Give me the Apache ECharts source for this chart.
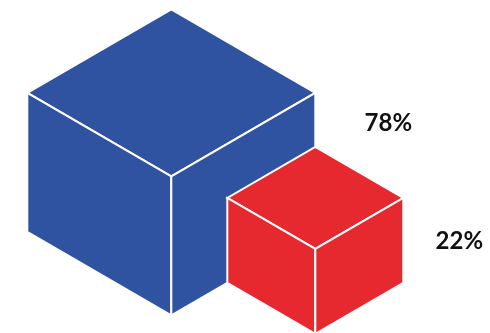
<!DOCTYPE html>
<html>
<head>
<meta charset="utf-8">
<script src="https://cdn.jsdelivr.net/npm/echarts@6/dist/echarts.min.js"></script>
<style>html,body{margin:0;padding:0;background:#fff}#c{width:490px;height:333px}</style>
</head>
<body>
<div id="c"></div>
<script>
const categories = ['78%', '22%'];
const values = [78, 22];
const labels = ['78%', '22%'];

const colors = ['#2F53A0', '#E5292F'];
const labelOffsets = [[73, 30], [56, 43]];
const DH = 0.58, VH = 0.965;
const LEFT = 27.3, TOPY = 9.3;

const chart = echarts.init(document.getElementById('c'), null, {renderer: 'canvas'});

function cubeGeom(api) {
  const hwOf = v => api.coord([0, -66])[1] - api.coord([0, v])[1];
  const hw1 = hwOf(values[0]), dh1 = hw1 * DH, vh1 = hw1 * VH;
  const c1 = [LEFT + hw1, TOPY + 2 * dh1];
  const hw2 = hwOf(values[1]), dh2 = hw2 * DH, vh2 = hw2 * VH;
  const ylb = c1[1] + vh1 - (hw1 - hw2) * dh1 / hw1;
  const c2 = [c1[0] + hw1, ylb + dh2 - vh2];
  return [{c: c1, hw: hw1, dh: dh1, vh: vh1}, {c: c2, hw: hw2, dh: dh2, vh: vh2}];
}

function renderItem(params, api) {
  const i = params.dataIndex;
  const g = cubeGeom(api)[i];
  const [x, y] = g.c, hw = g.hw, dh = g.dh, vh = g.vh;
  const fill = colors[i];
  const st = {fill: fill, stroke: '#fff', lineWidth: 2, lineJoin: 'miter'};
  const top = [[x, y], [x + hw, y - dh], [x, y - 2 * dh], [x - hw, y - dh]];
  const left = [[x, y], [x - hw, y - dh], [x - hw, y - dh + vh], [x, y + vh]];
  const right = [[x, y], [x + hw, y - dh], [x + hw, y - dh + vh], [x, y + vh]];
  const lo = labelOffsets[i];
  return {
    type: 'group',
    children: [
      {type: 'polygon', shape: {points: top}, style: st},
      {type: 'polygon', shape: {points: left}, style: st},
      {type: 'polygon', shape: {points: right}, style: st},
      {type: 'text', x: x + hw + lo[0], y: y - dh + lo[1],
        style: {text: labels[i], fill: '#111', font: 'bold 24px Lato, "Liberation Sans", sans-serif',
          align: 'center', verticalAlign: 'middle'}}
    ]
  };
}

chart.setOption({
  animation: false,
  grid: {left: 0, right: 0, top: 0, bottom: 0},
  xAxis: {type: 'category', data: categories, show: false},
  yAxis: {type: 'value', min: -66, max: 267, show: false},
  series: [{
    type: 'custom',
    renderItem: renderItem,
    clip: false,
    data: values.map((v, i) => [i, v])
  }]
});
</script>
</body>
</html>
